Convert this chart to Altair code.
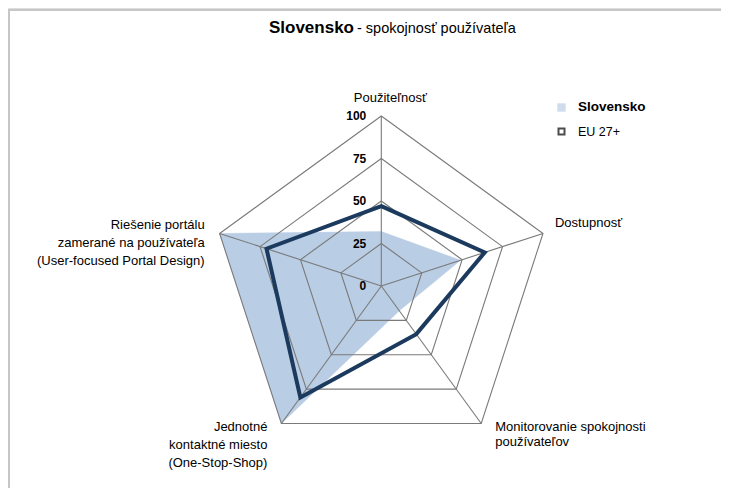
import altair as alt
import pandas as pd

# ---------------- data ----------------
categories = [
    "Použiteľnosť",
    "Dostupnosť",
    "Monitorovanie spokojnosti používateľov",
    "Jednotné kontaktné miesto (One-Stop-Shop)",
    "Riešenie portálu zamerané na používateľa (User-focused Portal Design)",
]
category_labels = [
    "Použiteľnosť",
    "Dostupnosť",
    "Monitorovanie spokojnosti\npoužívateľov",
    "Jednotné\nkontaktné miesto\n(One-Stop-Shop)",
    "Riešenie portálu\nzamerané na používateľa\n(User-focused Portal Design)",
]
series_names = ["Slovensko", "EU 27+"]
slovensko = [32, 49, 18, 100, 100]
eu27 = [47, 64, 35, 81, 71]
grid_levels = [25, 50, 75, 100]
tick_values = [0, 25, 50, 75, 100]
tick_labels = ["0", "25", "50", "75", "100"]
title_main = "Slovensko"
title_rest = "- spokojnosť používateľa"

# ---------------- style ----------------
FONT = "Liberation Sans"
FILL = "#b9cde5"
DARK = "#1b3a5e"
GRID = "#7a7a7a"
TXT = "#000000"
W, H = 713, 480
PX = 1.70          # pixels per unit
CX, CY = 373.3, 278.0
xdom = [-CX / PX, (W - CX) / PX]
ydom = [-(H - CY) / PX, CY / PX]
n = len(categories)

X = lambda f: alt.X(f, scale=alt.Scale(domain=xdom, nice=False, zero=False), axis=None)
Y = lambda f: alt.Y(f, scale=alt.Scale(domain=ydom, nice=False, zero=False), axis=None)

ang = f"PI/2 - datum.idx*2*PI/{n}"

def polar(ch):
    return ch.transform_calculate(
        ang=ang
    ).transform_calculate(
        x="datum.value*cos(datum.ang)", y="datum.value*sin(datum.ang)"
    )

sk_df = pd.DataFrame({"idx": range(n), "cat": categories, "value": slovensko, "series": series_names[0]})
eu_df = pd.DataFrame({"idx": range(n), "cat": categories, "value": eu27, "series": series_names[1]})
grid_df = pd.DataFrame([{"idx": i, "level": l, "value": l} for l in grid_levels for i in range(n)])
spoke_df = pd.DataFrame({"idx": range(n), "value": [grid_levels[-1]] * n})
tick_df = pd.DataFrame({"value": tick_values, "label": tick_labels})
lab_df = pd.DataFrame({"idx": range(n), "value": [grid_levels[-1]] * n, "label": category_labels})

fill_layer = polar(alt.Chart(sk_df)).mark_line(
    interpolate="linear-closed", fill=FILL, stroke=FILL, strokeWidth=0.5
).encode(x=X("x:Q"), y=Y("y:Q"), order="idx:Q")

grid_layer = polar(alt.Chart(grid_df)).mark_line(
    interpolate="linear-closed", stroke=GRID, strokeWidth=1.1
).encode(x=X("x:Q"), y=Y("y:Q"), detail="level:N", order="idx:Q")

spoke_layer = polar(alt.Chart(spoke_df)).transform_calculate(x0="0", y0="0").mark_rule(
    stroke=GRID, strokeWidth=1.1
).encode(x=X("x0:Q"), y=Y("y0:Q"), x2="x:Q", y2="y:Q")

eu_layer = polar(alt.Chart(eu_df)).mark_line(
    interpolate="linear-closed", stroke=DARK, strokeWidth=4, strokeJoin="miter"
).encode(x=X("x:Q"), y=Y("y:Q"), order="idx:Q")

tick_layer = alt.Chart(tick_df).transform_calculate(x0="0").mark_text(
    align="right", baseline="middle", dx=-15, font=FONT, fontSize=12, fontWeight="bold", color=TXT
).encode(x=X("x0:Q"), y=Y("value:Q"), text="label:N")

# category label placement: (align, dx, dy) relative to the outer vertex
label_style = [
    ("center", 9, -24),
    ("left", 12, -16),
    ("left", 14, -3),
    ("right", -14, -3),
    ("right", -15, -14),
]
line_heights = [15, 15, 15, 18, 18]
label_layers = []
for i, (al, dx, dy) in enumerate(label_style):
    label_layers.append(
        polar(alt.Chart(lab_df)).transform_filter(f"datum.idx == {i}").mark_text(
            align=al, baseline="top", dx=dx, dy=dy, font=FONT, fontSize=13,
            lineBreak="\n", lineHeight=line_heights[i], color=TXT
        ).encode(x=X("x:Q"), y=Y("y:Q"), text="label:N")
    )

# title
t1 = alt.Chart(pd.DataFrame({"t": [title_main]})).mark_text(
    align="right", baseline="alphabetic", font=FONT, fontSize=17, fontWeight="bold", color=TXT
).encode(x=alt.value(346), y=alt.value(25), text="t:N")
t2 = alt.Chart(pd.DataFrame({"t": [title_rest]})).mark_text(
    align="left", baseline="alphabetic", font=FONT, fontSize=14.5, color=TXT
).encode(x=alt.value(349), y=alt.value(25), text="t:N")

# legend
leg_sk_box = alt.Chart(pd.DataFrame({"s": [series_names[0]]})).mark_square(
    size=70, filled=True, color=FILL
).encode(x=alt.value(553.5), y=alt.value(99.5))
leg_eu_box = alt.Chart(pd.DataFrame({"s": [series_names[1]]})).mark_square(
    size=36, filled=False, stroke=TXT, strokeWidth=2
).encode(x=alt.value(553.5), y=alt.value(123.5))
leg_sk_txt = alt.Chart(pd.DataFrame({"s": [series_names[0]]})).mark_text(
    align="left", baseline="middle", font=FONT, fontSize=13.5, fontWeight="bold", color=TXT
).encode(x=alt.value(570), y=alt.value(99), text="s:N")
leg_eu_txt = alt.Chart(pd.DataFrame({"s": [series_names[1]]})).mark_text(
    align="left", baseline="middle", font=FONT, fontSize=12.5, color=TXT
).encode(x=alt.value(570), y=alt.value(124), text="s:N")

# screenshot frame
frame_top = alt.Chart(pd.DataFrame({"a": [0]})).mark_rule(color="#c6c6c6", strokeWidth=2).encode(
    x=alt.value(0), x2=alt.value(W), y=alt.value(2)
)
frame_left = alt.Chart(pd.DataFrame({"a": [0]})).mark_rule(color="#c6c6c6", strokeWidth=2).encode(
    x=alt.value(1), y=alt.value(2), y2=alt.value(H)
)

chart = alt.layer(
    fill_layer, grid_layer, spoke_layer, eu_layer, tick_layer, *label_layers,
    t1, t2, leg_sk_box, leg_eu_box, leg_sk_txt, leg_eu_txt, frame_top, frame_left
).properties(
    width=W, height=H, autosize=alt.AutoSizeParams(type="none"), padding=0
).configure_view(stroke=None).configure(background="white")

chart.save("out.html", embed_options={"renderer": "svg", "actions": False})
